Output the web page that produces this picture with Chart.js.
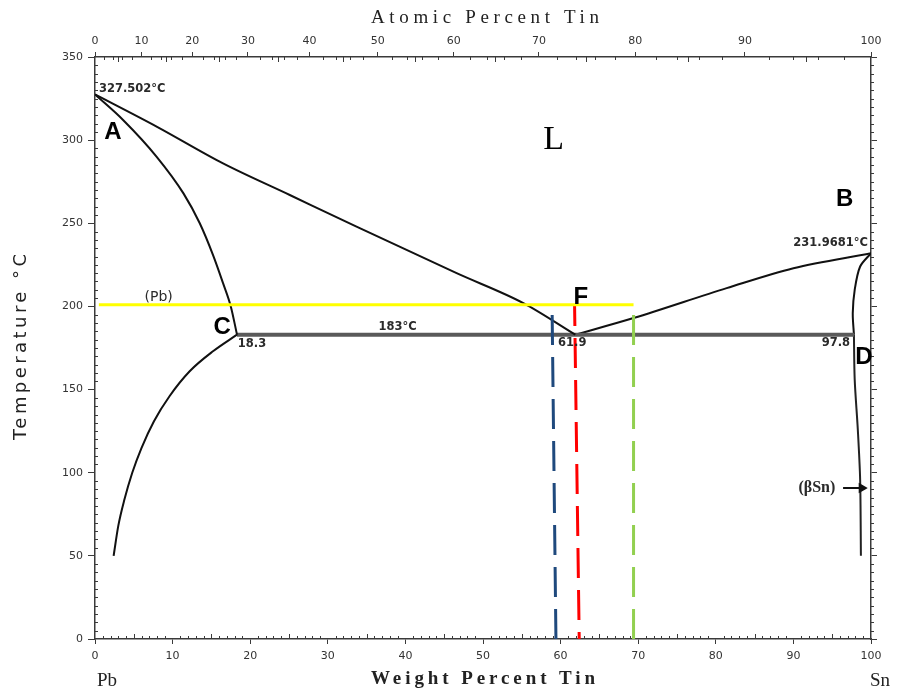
<!DOCTYPE html>
<html><head><meta charset="utf-8">
<script src="https://cdn.jsdelivr.net/npm/chart.js@4"></script>
<style>html,body{margin:0;padding:0;background:#fff}</style>
</head><body>
<canvas id="c" width="899" height="692"></canvas>
<script>
// ---- data (weight % Sn, temperature °C) ----
const wtTicks = [0,10,20,30,40,50,60,70,80,90,100];
const atomicTicks = [0,10,20,30,40,50,60,70,80,90,100];
const tempTicks = [0,50,100,150,200,250,300,350];

const liquidusLeft  = [[0,327.5],[8.0,308],[16.5,286],[25.1,267],[33.7,248],[46.6,220],[55.2,202],[61.9,183]];
const solidusLeft   = [[0,327.5],[3.65,312],[7.95,290],[11.4,268],[13.5,250],[15.2,231],[16.5,214],[17.5,200],[18.3,183]];
const solvusLeft    = [[2.4,50],[3.0,68],[3.8,84],[4.8,100],[6.0,115],[7.6,131],[9.6,146],[12.2,161],[15.2,173],[18.3,183]];
const eutectic      = [[18.3,183],[97.8,183]];
const liquidusRight = [[61.9,183],[69.4,193],[81.4,211],[90,223],[100,232]];
const solidusRight  = [[100,232],[98.6,224],[97.9,210],[97.65,196],[97.8,183]];
const solvusRight   = [[97.8,183],[97.9,156],[98.3,126],[98.6,96],[98.7,50]];
const yellowLine    = [[0.5,201],[69.4,201]];
const blueLine      = [[59.4,0],[58.9,200]];
const redLine       = [[62.4,0],[61.8,201]];
const greenLine     = [[69.4,0],[69.4,201]];
const betaSnArrow   = [[96.4,90.8],[98.8,90.8]];

const annotations = [
  {text:'327.502°C', x:0.5,  y:330.8, kind:'small', align:'left'},
  {text:'A',         x:2.3,  y:304.9, kind:'big'},
  {text:'L',         x:59.1, y:300.1, kind:'serifBig'},
  {text:'B',         x:96.6, y:264.6, kind:'big'},
  {text:'231.9681°C',x:99.6, y:238.2, kind:'small', align:'right'},
  {text:'(Pb)',      x:8.2,  y:205.7, kind:'mid'},
  {text:'C',         x:16.4, y:187.6, kind:'big'},
  {text:'18.3',      x:18.4, y:177.4, kind:'small', align:'left'},
  {text:'183°C',     x:39.0, y:187.6, kind:'small'},
  {text:'61.9',      x:61.5, y:178,   kind:'small'},
  {text:'F',         x:62.6, y:205.7, kind:'big'},
  {text:'97.8',      x:97.3, y:178,   kind:'small', align:'right'},
  {text:'D',         x:99.1, y:169.6, kind:'big'},
  {text:'(βSn)',     x:95.4, y:90.8,  kind:'serifMid', align:'right'}
];

const atToWt = a => (a <= 0 ? 0 : a >= 100 ? 100 : 100 * a * 118.71 / (a * 118.71 + (100 - a) * 207.2));
const pts = arr => arr.map(([x, y]) => ({x, y}));

const AX = '#3a3a3a';
const tickFont = {family:'DejaVu Sans', size:11};
const mono = {cubicInterpolationMode:'monotone'};

const datasets = [
  {data:pts(yellowLine), borderColor:'#FFFF00', borderWidth:3},
  {data:pts(redLine), borderColor:'#FF0000', borderWidth:3, borderDash:[30,12], borderDashOffset:23},
  {data:pts(blueLine), borderColor:'#1F497D', borderWidth:3, borderDash:[30,12]},
  {data:pts(greenLine), borderColor:'#92D050', borderWidth:3, borderDash:[30,12]},
  {data:pts(betaSnArrow), borderColor:'#111', borderWidth:2, pointRadius:[0,4], pointStyle:'triangle', rotation:90, pointBackgroundColor:'#111', pointBorderColor:'#111'},
  Object.assign({data:pts(liquidusLeft), borderColor:'#111', borderWidth:2}, mono),
  Object.assign({data:pts(solidusLeft), borderColor:'#111', borderWidth:2}, mono),
  Object.assign({data:pts(solvusLeft), borderColor:'#111', borderWidth:2}, mono),
  {data:pts(eutectic), borderColor:'#5a5a5a', borderWidth:4},
  Object.assign({data:pts(liquidusRight), borderColor:'#111', borderWidth:2}, mono),
  {data:pts(solidusRight), borderColor:'#111', borderWidth:2, tension:0.3},
  {data:pts(solvusRight), borderColor:'#222', borderWidth:2, tension:0.3}
].map(d => Object.assign({showLine:true, pointRadius:0, fill:false}, d));

function spacedText(ctx, text, cx, cy, width) {
  ctx.letterSpacing = '0px';
  const w = ctx.measureText(text).width;
  const ls = (width - w) / Math.max(1, text.length - 1);
  ctx.letterSpacing = ls + 'px';
  ctx.textAlign = 'left';
  ctx.fillText(text, cx - width / 2, cy);
  ctx.letterSpacing = '0px';
}

const decor = {
  id:'decor',
  afterDraw(chart) {
    const ctx = chart.ctx, a = chart.chartArea;
    const sx = chart.scales.x, sy = chart.scales.y;
    ctx.save();
    // minor ticks
    ctx.strokeStyle = AX; ctx.lineWidth = 1;
    ctx.beginPath();
    for (let w = 1; w < 100; w++) {
      if (w % 10 === 0) continue;
      const px = Math.round(sx.getPixelForValue(w)) + 0.5;
      ctx.moveTo(px, a.bottom); ctx.lineTo(px, a.bottom - (w % 5 === 0 ? 5 : 3));
    }
    for (let at = 2; at < 100; at += 2) {
      if (at % 10 === 0) continue;
      const px = Math.round(sx.getPixelForValue(atToWt(at))) + 0.5;
      ctx.moveTo(px, a.top); ctx.lineTo(px, a.top + 3);
    }
    for (let at = 5; at < 100; at += 10) {
      const px = Math.round(sx.getPixelForValue(atToWt(at))) + 0.5;
      ctx.moveTo(px, a.top); ctx.lineTo(px, a.top + 5);
    }
    for (let t = 5; t < 350; t += 5) {
      if (t % 50 === 0) continue;
      const py = Math.round(sy.getPixelForValue(t)) + 0.5;
      ctx.moveTo(a.left, py); ctx.lineTo(a.left + 3, py);
      ctx.moveTo(a.right, py); ctx.lineTo(a.right + 3, py);
    }
    ctx.stroke();

    // annotations
    ctx.textBaseline = 'middle';
    annotations.forEach(o => {
      const px = sx.getPixelForValue(o.x), py = sy.getPixelForValue(o.y);
      if (o.kind === 'big') ctx.font = 'bold 24px "Liberation Sans"';
      else if (o.kind === 'small') ctx.font = 'bold 11.5px "DejaVu Sans"';
      else if (o.kind === 'mid') ctx.font = '14px "DejaVu Sans"';
      else if (o.kind === 'serifBig') ctx.font = '34px "Liberation Serif"';
      else if (o.kind === 'serifMid') ctx.font = 'bold 16px "Liberation Serif"';
      ctx.textAlign = o.align || 'center';
      ctx.fillStyle = (o.kind === 'small' || o.kind === 'mid' || o.kind === 'serifMid') ? '#2a2a2a' : '#000';
      ctx.fillText(o.text, px, py);
    });

    // axis titles
    ctx.fillStyle = '#222';
    ctx.textBaseline = 'middle';
    ctx.font = '19px "Liberation Serif"';
    spacedText(ctx, 'Atomic Percent Tin', 485, 18, 228);
    ctx.font = 'bold 19px "Liberation Serif"';
    spacedText(ctx, 'Weight Percent Tin', 483, 679, 224);
    ctx.font = '19px "Liberation Serif"';
    ctx.textAlign = 'left';
    ctx.fillText('Pb', 97, 681);
    ctx.fillText('Sn', 870, 681);
    ctx.save();
    ctx.translate(21, 347);
    ctx.rotate(-Math.PI / 2);
    ctx.font = '18px "DejaVu Sans"';
    spacedText(ctx, 'Temperature °C', 0, 0, 186);
    ctx.restore();
    ctx.restore();
  }
};

new Chart(document.getElementById('c').getContext('2d'), {
  type:'scatter',
  data:{datasets},
  options:{
    responsive:false, animation:false, devicePixelRatio:1,
    layout:{padding:0},
    plugins:{legend:{display:false}, tooltip:{enabled:false}},
    scales:{
      x:{type:'linear', position:'bottom', min:0, max:100,
        afterBuildTicks:s => { s.ticks = wtTicks.map(v => ({value:v})); },
        ticks:{font:tickFont, color:'#333', padding:6, maxRotation:0, autoSkip:false},
        grid:{drawOnChartArea:false, tickLength:5, color:AX},
        border:{color:AX, width:1.5},
        afterFit:s => { s.height = 53; }},
      x2:{type:'linear', position:'top', min:0, max:100,
        afterBuildTicks:s => { s.ticks = atomicTicks.map(a => ({value:atToWt(a)})); },
        ticks:{font:tickFont, color:'#333', padding:4, maxRotation:0, autoSkip:false,
          callback:(v, i) => String(atomicTicks[i])},
        grid:{drawOnChartArea:false, tickLength:5, color:AX},
        border:{color:AX, width:1.5},
        afterFit:s => { s.height = 57; }},
      y:{type:'linear', position:'left', min:0, max:350,
        afterBuildTicks:s => { s.ticks = tempTicks.map(v => ({value:v})); },
        ticks:{font:tickFont, color:'#333', padding:5, autoSkip:false},
        grid:{drawOnChartArea:false, tickLength:7, color:AX},
        border:{color:AX, width:1.5},
        afterFit:s => { s.width = 95; }},
      y2:{type:'linear', position:'right', min:0, max:350,
        afterBuildTicks:s => { s.ticks = tempTicks.map(v => ({value:v})); },
        ticks:{display:false},
        grid:{drawOnChartArea:false, tickLength:6, color:AX},
        border:{color:AX, width:1.5},
        afterFit:s => { s.width = 28; }}
    }
  },
  plugins:[decor]
});
</script>
</body></html>
